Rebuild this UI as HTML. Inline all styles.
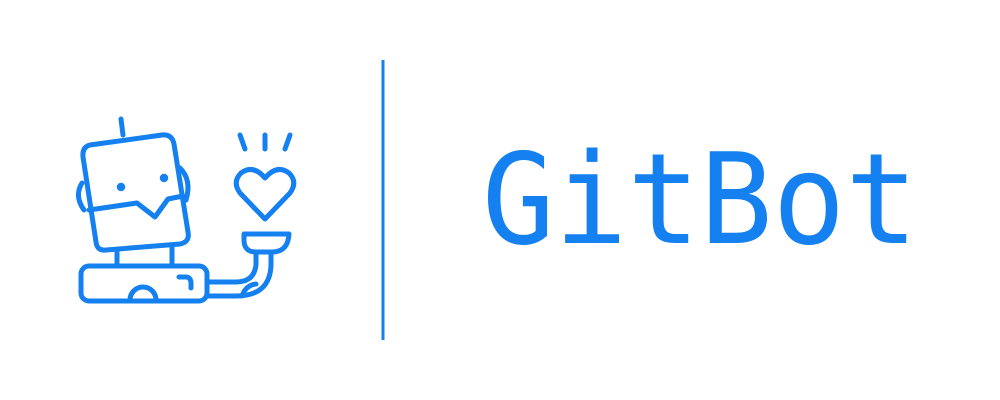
<!DOCTYPE html>
<html><head><meta charset="utf-8">
<style>
html,body{margin:0;padding:0;background:#fff;}
svg{display:block;}
</style></head>
<body>
<svg width="1000" height="400" viewBox="0 0 1000 400">
<g fill="none" stroke="#1580f0" stroke-width="5" stroke-linecap="round" stroke-linejoin="round">
  <line x1="121" y1="119" x2="123" y2="135"/>
  <path d="M90,145 L162,135 Q172,134 174,144 L188,232 Q190,242 180,244 L106,250 Q97,251 96,242 L83,157 Q82,147 90,145 Z"/>
  <path d="M89,210 L137,203 L155,217 L168,199 L183,196"/>
  <path d="M82,183 Q74,196 84,210"/>
  <path d="M180,168 Q192,180 186,200"/>
  <line x1="117" y1="250" x2="117" y2="266"/>
  <line x1="172" y1="245" x2="172" y2="266"/>
  <rect x="81" y="266" width="126" height="35" rx="8"/>
  <path d="M130,300 A13,13 0 0 1 156,300"/>
  <path d="M179,277 L186,277 Q190,277 191,282 L191,288"/>
  <path d="M207,282 L236,282 Q254,282 256,265 L256,252"/>
  <path d="M207,296 L236,296 Q270,296 271,265 L271,252"/>
  <path d="M242,296 Q246,285 256,284"/>
  <path d="M244,234 L289,234 Q288,252 272,252 L256,252 Q244,252 244,240 Z"/>
  <path d="M265,219 L240,193 Q232,182 241,173 Q253,164 265,178 Q277,164 289,173 Q298,182 290,193 Z"/>
  <line x1="240" y1="135" x2="245" y2="149"/>
  <line x1="265" y1="135" x2="265" y2="149"/>
  <line x1="290" y1="135" x2="285" y2="149"/>
  <circle cx="121" cy="187" r="2" stroke-width="4.5" fill="#1580f0"/>
  <circle cx="164" cy="178" r="2" stroke-width="4.5" fill="#1580f0"/>
</g>
<line x1="383" y1="60" x2="383" y2="340" stroke="#1580f0" stroke-width="3"/>
<text x="482" y="243" font-family="'DejaVu Sans Mono','Liberation Mono',monospace" font-size="126" fill="#1580f0" textLength="436" lengthAdjust="spacingAndGlyphs">GitBot</text>
</svg>
</body></html>
